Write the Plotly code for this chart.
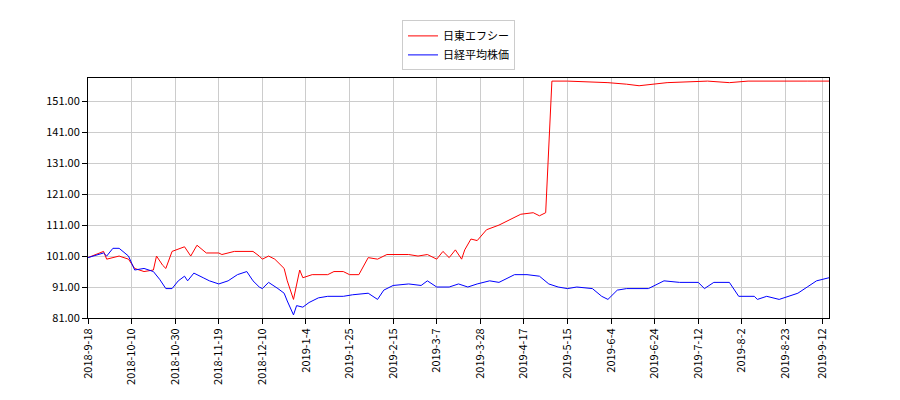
import plotly.graph_objects as go

tick_idx = [0, 14, 28, 42, 56, 70, 84, 98, 112, 126, 140, 154, 168, 182, 196, 210, 224, 236]
tick_labels = ["2018-9-18", "2018-10-10", "2018-10-30", "2018-11-19", "2018-12-10", "2019-1-4",
               "2019-1-25", "2019-2-15", "2019-3-7", "2019-3-28", "2019-4-17", "2019-5-15",
               "2019-6-4", "2019-6-24", "2019-7-12", "2019-8-2", "2019-8-23", "2019-9-12"]

red_idx = [0, 5, 6, 10, 13, 15, 18, 21, 22, 24, 25, 27, 31, 33, 35, 38, 42, 43, 47, 53, 55, 56,
           58, 60, 63, 64, 66, 68, 69, 72, 77, 79, 82, 84, 87, 90, 93, 96, 103, 106, 109, 112,
           114, 116, 118, 120, 121, 123, 125, 128, 132, 135, 139, 143, 145, 147, 149, 154, 167,
           173, 177, 186, 199, 206, 212, 231, 238]
red_val = [100.5, 102.5, 100, 101, 100, 97, 96, 96.5, 101, 98, 97, 102.5, 104, 101, 104.5, 102,
           102, 101.5, 102.5, 102.5, 101, 100, 101, 100, 97, 93, 87, 96.5, 94, 95, 95, 96, 96,
           95, 95, 100.5, 100, 101.5, 101.5, 101, 101.5, 100, 102.5, 100.5, 103, 100, 103, 106.5,
           106, 109.5, 111, 112.5, 114.5, 115, 114, 115, 157.5, 157.5, 157, 156.5, 156, 157,
           157.5, 157, 157.5, 157.5, 157.5]

blue_idx = [0, 5, 6, 8, 10, 13, 15, 18, 21, 23, 25, 27, 29, 31, 32, 34, 37, 39, 42, 45, 48, 51,
            53, 55, 56, 58, 61, 63, 64, 66, 67, 69, 71, 74, 77, 82, 85, 90, 93, 95, 98, 103, 107,
            109, 112, 116, 119, 122, 125, 129, 132, 137, 141, 145, 148, 151, 154, 157, 162, 165,
            167, 170, 173, 180, 185, 190, 196, 198, 201, 206, 209, 214, 215, 218, 222, 225, 228,
            231, 234, 238]
blue_val = [100.5, 102, 101, 103.5, 103.5, 101, 96.5, 97, 96, 93.5, 90.5, 90.5, 93, 94.5, 93,
            95.5, 94, 93, 92, 93, 95, 96, 93, 91, 90.5, 92.5, 90.5, 89, 86.5, 82, 85, 84.5, 86,
            87.5, 88, 88, 88.5, 89, 87, 90, 91.5, 92, 91.5, 93, 91, 91, 92, 91, 92, 93, 92.5, 95,
            95, 94.5, 92, 91, 90.5, 91, 90.5, 88, 87, 90, 90.5, 90.5, 93, 92.5, 92.5, 90.5, 92.5,
            92.5, 88, 88, 87, 88, 87, 88, 89, 91, 93, 94]

fig = go.Figure()
fig.add_trace(go.Scatter(x=red_idx, y=red_val, mode="lines", name="日東エフシー",
                         line=dict(color="red", width=1)))
fig.add_trace(go.Scatter(x=blue_idx, y=blue_val, mode="lines", name="日経平均株価",
                         line=dict(color="blue", width=1)))

axis_style = dict(showline=True, linecolor="black", mirror=True, showgrid=True,
                  gridcolor="#cccccc", ticks="outside", tickcolor="black", zeroline=False,
                  automargin=False, tickfont=dict(size=11, color="black"))
fig.update_xaxes(range=[0, 238], tickvals=tick_idx, ticktext=tick_labels, tickangle=-90,
                 **axis_style)
fig.update_yaxes(range=[81, 158.5], tickvals=[81, 91, 101, 111, 121, 131, 141, 151],
                 tickformat=".2f", **axis_style)
fig.update_layout(
    width=900, height=400,
    margin=dict(l=80, r=79, t=70, b=90),
    plot_bgcolor="white", paper_bgcolor="white",
    font=dict(family="Noto Sans CJK JP, DejaVu Sans", size=12, color="black"),
    legend=dict(x=0.5, y=1.24, xanchor="center", yanchor="top", bordercolor="#cccccc",
                borderwidth=1, bgcolor="white", font=dict(size=11), tracegroupgap=0),
)
fig.write_html("out.html")
